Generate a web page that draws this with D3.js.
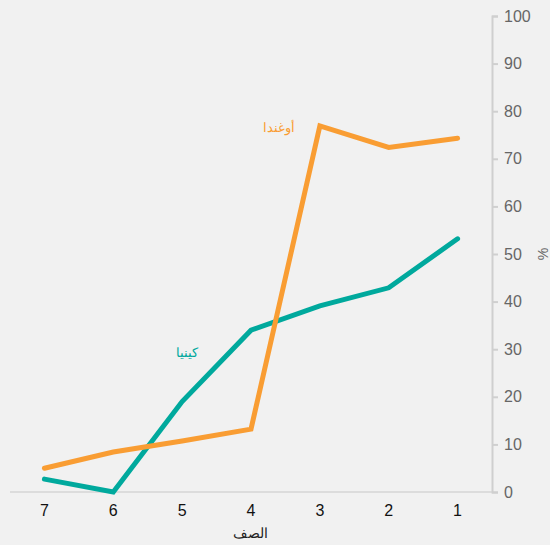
<!DOCTYPE html>
<html>
<head>
<meta charset="utf-8">
<script src="https://cdn.jsdelivr.net/npm/d3@7"></script>
<style>
  body { margin: 0; background: #f1f1f1; }
  svg { display: block; font-family: "Liberation Sans", Arial, sans-serif; }
</style>
</head>
<body>
<div id="chart"></div>
<script>
// grades, shown right to left
var grades = ["7", "6", "5", "4", "3", "2", "1"];
var uganda = [5.0, 8.4, 10.7, 13.2, 76.9, 72.4, 74.3];
var kenya = [2.7, 0, 19.0, 34.0, 39.1, 42.9, 53.2];
var yTicks = [0, 10, 20, 30, 40, 50, 60, 70, 80, 90, 100];

var width = 550, height = 545;

var x = d3.scalePoint()
  .domain(grades)
  .range([10, 492])
  .padding(0.5);

var y = d3.scaleLinear()
  .domain([0, 100])
  .range([492, 16]);

var svg = d3.select("#chart").append("svg")
  .attr("width", width)
  .attr("height", height);

svg.append("rect")
  .attr("width", width)
  .attr("height", height)
  .attr("fill", "#f1f1f1");

// x axis baseline
svg.append("line")
  .attr("x1", 10)
  .attr("x2", 492)
  .attr("y1", y(0))
  .attr("y2", y(0))
  .attr("stroke", "#dcdcdc")
  .attr("stroke-width", 2);

// y axis on the right
var yAxis = svg.append("g")
  .attr("transform", "translate(492,0)")
  .call(d3.axisRight(y).tickValues(yTicks).tickSize(6).tickPadding(6));

yAxis.select(".domain").attr("stroke", "#cfcfcf").attr("stroke-width", 2);
yAxis.selectAll(".tick line").attr("stroke", "#cfcfcf").attr("stroke-width", 2);
yAxis.selectAll(".tick text")
  .attr("fill", "#666")
  .style("font-size", "16px")
  .style("font-family", "'Liberation Sans', Arial, sans-serif");

svg.append("text")
  .attr("transform", "translate(543,254) rotate(-90)")
  .attr("text-anchor", "middle")
  .attr("dy", "0.35em")
  .attr("fill", "#666")
  .style("font-size", "14px")
  .text("%");

// x tick labels
svg.selectAll(".xlab")
  .data(grades)
  .enter().append("text")
  .attr("class", "xlab")
  .attr("x", function (d) { return x(d); })
  .attr("y", 516)
  .attr("text-anchor", "middle")
  .attr("fill", "#111")
  .style("font-size", "16px")
  .text(function (d) { return d; });

svg.append("text")
  .attr("x", 250)
  .attr("y", 538)
  .attr("text-anchor", "middle")
  .attr("fill", "#222")
  .style("font-size", "14px")
  .text("الصف");

var line = d3.line()
  .x(function (d, i) { return x(grades[i]); })
  .y(function (d) { return y(d); });

svg.append("path")
  .datum(kenya)
  .attr("d", line)
  .attr("fill", "none")
  .attr("stroke", "#00a99d")
  .attr("stroke-width", 5)
  .attr("stroke-linecap", "round");

svg.append("path")
  .datum(uganda)
  .attr("d", line)
  .attr("fill", "none")
  .attr("stroke", "#f99d33")
  .attr("stroke-width", 5)
  .attr("stroke-linecap", "round");

// series labels
svg.append("text")
  .attr("x", 279)
  .attr("y", 132)
  .attr("text-anchor", "middle")
  .attr("fill", "#f99d33")
  .style("font-size", "13px")
  .text("أوغندا");

svg.append("text")
  .attr("x", 187)
  .attr("y", 357)
  .attr("text-anchor", "middle")
  .attr("fill", "#00a99d")
  .style("font-size", "13px")
  .text("كينيا");
</script>
</body>
</html>
